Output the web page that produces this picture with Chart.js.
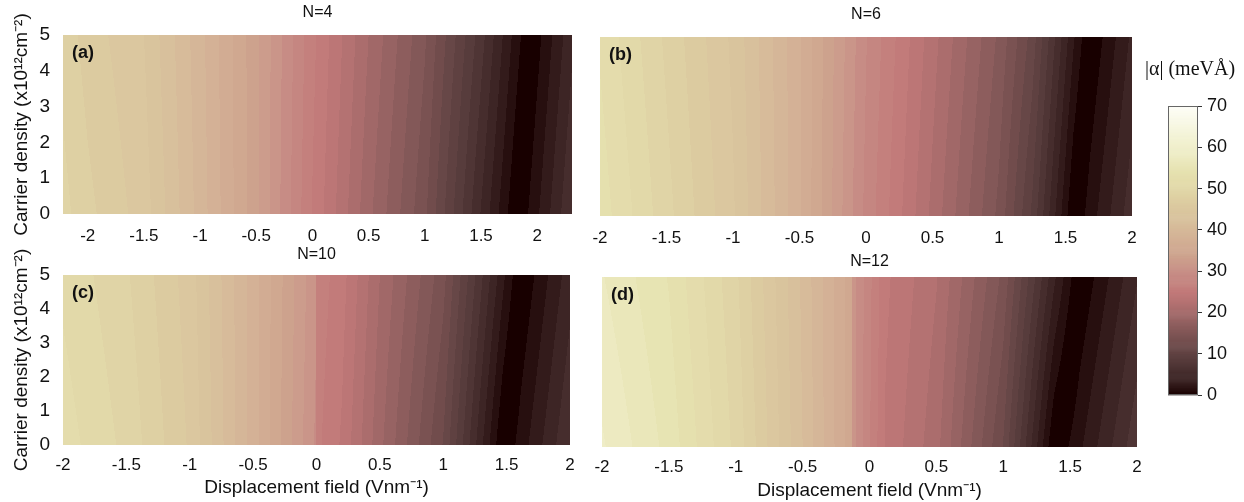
<!DOCTYPE html>
<html>
<head>
<meta charset="utf-8">
<script src="https://cdn.jsdelivr.net/npm/chart.js@4.4.1/dist/chart.umd.min.js"></script>
<style>
  html, body { margin: 0; padding: 0; background: #fff; }
  #wrap { position: relative; width: 1244px; height: 502px; overflow: hidden; }
  canvas { position: absolute; }
</style>
</head>
<body>
<div id="wrap">
  <canvas id="pa" width="585" height="250" style="left:0px;top:0px"></canvas>
  <canvas id="pb" width="560" height="250" style="left:585px;top:0px"></canvas>
  <canvas id="pc" width="585" height="257" style="left:0px;top:245px"></canvas>
  <canvas id="pd" width="560" height="257" style="left:585px;top:245px"></canvas>
  <canvas id="cbar" width="114" height="370" style="left:1130px;top:50px"></canvas>
</div>
<script>
// sampled rows of carrier density (x10^12 cm^-2)
const densityRows = [0, 5];
const fieldTicks = [-2, -1.5, -1, -0.5, 0, 0.5, 1, 1.5, 2];
const densityTicks = [0, 1, 2, 3, 4, 5];
const alphaTicks = [0, 10, 20, 30, 40, 50, 60, 70];

const titles = ['N=4', 'N=6', 'N=10', 'N=12'];
const tags = ['(a)', '(b)', '(c)', '(d)'];

// |alpha| (meV A) along the displacement field, at n = 0 and n = 5
const fieldN4 = [-2.22, -2, -1.5, -1, -0.5, 0, 0.5, 1, 1.5, 1.82, 1.94, 2.31];
const alphaN4_0 = [49.5, 48, 45.5, 40, 34, 26.5, 20, 14.3, 5.5, 0, 1.7, 7];
const alphaN4_5 = [48.5, 47, 44.8, 39.7, 34, 27, 21, 15.6, 7.6, 2, 0, 5.3];

const fieldN6 = [-2, -1.5, -1, -0.5, 0, 0.5, 1, 1.25, 1.56, 1.68, 2];
const alphaN6_0 = [54, 49.5, 45, 38, 29, 22, 15, 9.5, 0, 2, 6.5];
const alphaN6_5 = [53, 48.7, 44.5, 38, 29.5, 23, 16.5, 12, 3, 0, 4.5];

const fieldN10 = [-2, -1.5, -1, -0.5, -0.001, 0, 0.2, 0.5, 1, 1.47, 1.61, 2];
const alphaN10_0 = [52.5, 50, 46, 38.5, 30.5, 27, 25, 20, 12.5, 0, 2, 7];
const alphaN10_5 = [51.5, 49.2, 45.5, 38.5, 31, 27.5, 25.8, 21, 14.5, 3.2, 0, 5];

const fieldN12 = [-2, -1.5, -1, -0.5, -0.131, -0.13, 0.12, 0.5, 1, 1.38, 1.57, 2];
const alphaN12_0 = [59, 55.5, 50, 42, 35.5, 31.5, 25, 21.5, 12.5, 0, 2.5, 8];
const alphaN12_5 = [57.5, 54.5, 49.3, 41.7, 35.5, 31.5, 25.5, 22.5, 15, 4.5, 0, 5.5];

// contour step of the filled levels (meV A)
const levelStep = 1.4;

// colour map (value -> rgb)
const cmapStops = [
  [0, [24, 0, 0]], [2, [46, 22, 22]], [5, [66, 42, 42]], [8, [85, 58, 58]],
  [11, [102, 70, 70]], [14, [122, 82, 82]], [17, [142, 94, 94]], [20, [164, 106, 106]],
  [23, [184, 116, 116]], [25, [194, 122, 122]], [27, [196, 130, 126]], [29, [198, 138, 132]],
  [31, [202, 150, 138]], [34, [206, 164, 142]], [38, [212, 178, 150]], [42, [216, 192, 156]],
  [46, [220, 202, 160]], [50, [226, 216, 168]], [54, [230, 226, 176]], [58, [238, 236, 196]],
  [63, [244, 244, 216]], [70, [254, 254, 248]]
];

function cmap(v) {
  if (v <= cmapStops[0][0]) return cmapStops[0][1];
  for (let i = 1; i < cmapStops.length; i++) {
    const [v1, c1] = cmapStops[i];
    if (v <= v1) {
      const [v0, c0] = cmapStops[i - 1];
      const t = (v - v0) / (v1 - v0);
      return [0, 1, 2].map(k => c0[k] + (c1[k] - c0[k]) * t);
    }
  }
  return cmapStops[cmapStops.length - 1][1];
}

function lookup(xs, vs, x) {
  if (x <= xs[0]) return vs[0];
  for (let i = 1; i < xs.length; i++) {
    if (x <= xs[i]) {
      const t = (x - xs[i - 1]) / (xs[i] - xs[i - 1]);
      return vs[i - 1] + (vs[i] - vs[i - 1]) * t;
    }
  }
  return vs[vs.length - 1];
}

// alpha changes sign where |alpha| reaches zero; keep the sign while blending rows
function signed(vs) {
  const k = vs.indexOf(Math.min(...vs));
  return vs.map((v, i) => (i > k ? -v : v));
}

// filled contour layer
function heatLayer(xs, rowLow, rowHigh) {
  const sLow = signed(rowLow), sHigh = signed(rowHigh);
  return {
    id: 'heat',
    beforeDatasetsDraw(chart) {
      const ctx = chart.ctx;
      const xS = chart.scales.x, yS = chart.scales.y;
      const a = chart.chartArea;
      const x0 = Math.round(a.left), y0 = Math.round(a.top);
      const w = Math.round(a.right) - x0, h = Math.round(a.bottom) - y0;
      const img = ctx.createImageData(w, h);
      const span = densityRows[1] - densityRows[0];
      for (let i = 0; i < w; i++) {
        const xv = xS.getValueForPixel(x0 + i + 0.5);
        const lo = lookup(xs, sLow, xv), hi = lookup(xs, sHigh, xv);
        for (let j = 0; j < h; j++) {
          let t = (yS.getValueForPixel(y0 + j + 0.5) - densityRows[0]) / span;
          t = Math.max(0, Math.min(1, t));
          const v = Math.abs(lo + (hi - lo) * t);
          const c = cmap(Math.floor(v / levelStep) * levelStep);
          const p = (j * w + i) * 4;
          img.data[p] = c[0]; img.data[p + 1] = c[1]; img.data[p + 2] = c[2]; img.data[p + 3] = 255;
        }
      }
      ctx.putImageData(img, x0, y0);
    }
  };
}

function textLayer(title, tag, titleY) {
  return {
    id: 'texts',
    afterDatasetsDraw(chart) {
      const ctx = chart.ctx, a = chart.chartArea;
      ctx.save();
      ctx.fillStyle = '#111';
      ctx.textBaseline = 'middle';
      ctx.font = 'bold 18px "Liberation Sans", Arial, sans-serif';
      ctx.textAlign = 'left';
      ctx.fillText(tag, a.left + 9, a.top + 18);
      ctx.font = '16px "Liberation Sans", Arial, sans-serif';
      ctx.textAlign = 'center';
      ctx.fillText(title, (a.left + a.right) / 2, titleY);
      ctx.restore();
    }
  };
}

Chart.defaults.font.family = '"Liberation Sans", Arial, sans-serif';
Chart.defaults.color = '#111';

function panel(id, k, xs, rowLow, rowHigh, o) {
  new Chart(document.getElementById(id), {
    type: 'scatter',
    data: { datasets: [{ data: [] }] },
    options: {
      responsive: false,
      animation: false,
      events: [],
      layout: { padding: o.pad },
      plugins: {
        legend: { display: false },
        tooltip: { enabled: false }
      },
      scales: {
        x: {
          type: 'linear', min: o.xmin, max: o.xmax,
          grid: { display: false }, border: { display: false },
          ticks: {
            font: { size: 17 }, padding: o.tickPad, maxRotation: 0, autoSkip: false,
            includeBounds: false, callback: v => String(v)
          },
          afterBuildTicks: s => { s.ticks = fieldTicks.map(v => ({ value: v })); },
          afterFit: s => { s.height = o.xH; },
          title: {
            display: o.xTitle, text: 'Displacement field (Vnm\u207B\u00B9)',
            font: { size: 19 }, padding: { top: 0, bottom: o.xTitlePad }
          }
        },
        y: {
          type: 'linear', min: 0, max: 5, display: o.showY,
          grid: { display: false }, border: { display: false },
          ticks: { font: { size: 19 }, padding: 5, callback: v => String(v) },
          afterBuildTicks: s => { s.ticks = densityTicks.map(v => ({ value: v })); },
          afterFit: s => { s.width = o.showY ? 63 : 0; },
          title: {
            display: true, text: 'Carrier density (x10\u00B9\u00B2cm\u207B\u00B2)',
            font: { size: 19 }, padding: { top: 10, bottom: 0 }
          }
        }
      }
    },
    plugins: [heatLayer(xs, rowLow, rowHigh), textLayer(titles[k], tags[k], o.titleY)]
  });
}

panel('pa', 0, fieldN4, alphaN4_0, alphaN4_5, {
  xmin: -2.22, xmax: 2.31, showY: true, xTitle: false, titleY: 13,
  pad: { left: 0, right: 13, top: 35, bottom: 0 },
  xH: 36, tickPad: 4, xTitlePad: 0
});
panel('pb', 1, fieldN6, alphaN6_0, alphaN6_5, {
  xmin: -2, xmax: 2, showY: false, xTitle: false, titleY: 15,
  pad: { left: 15, right: 13, top: 37, bottom: 0 },
  xH: 34, tickPad: 4, xTitlePad: 0
});
panel('pc', 2, fieldN10, alphaN10_0, alphaN10_5, {
  xmin: -2, xmax: 2, showY: true, xTitle: true, titleY: 10,
  pad: { left: 0, right: 15, top: 30, bottom: 0 },
  xH: 57, tickPad: 2, xTitlePad: 3
});
panel('pd', 3, fieldN12, alphaN12_0, alphaN12_5, {
  xmin: -2, xmax: 2, showY: false, xTitle: true, titleY: 17,
  pad: { left: 17, right: 8, top: 32, bottom: 0 },
  xH: 55, tickPad: 2, xTitlePad: 0
});

// colour bar
const barLayer = {
  id: 'bar',
  beforeDatasetsDraw(chart) {
    const ctx = chart.ctx, a = chart.chartArea, yS = chart.scales.y;
    for (let v = 0; v < 70; v += 0.25) {
      const c = cmap(v + 0.125);
      const yTop = yS.getPixelForValue(v + 0.25), yBot = yS.getPixelForValue(v);
      ctx.fillStyle = `rgb(${c[0] | 0},${c[1] | 0},${c[2] | 0})`;
      ctx.fillRect(a.left, yTop - 0.3, a.right - a.left, yBot - yTop + 0.6);
    }
    ctx.strokeStyle = '#666';
    ctx.lineWidth = 1;
    ctx.strokeRect(a.left + 0.5, a.top + 0.5, a.right - a.left - 1, a.bottom - a.top - 1);
    ctx.save();
    ctx.fillStyle = '#111';
    ctx.font = '20px "Liberation Serif", "DejaVu Serif", serif';
    ctx.textAlign = 'center';
    ctx.textBaseline = 'middle';
    ctx.fillText('|\u03B1| (meV\u00C5)', (a.left + a.right) / 2 + 7, a.top - 36);
    ctx.restore();
  }
};

new Chart(document.getElementById('cbar'), {
  type: 'scatter',
  data: { datasets: [{ data: [] }] },
  options: {
    responsive: false,
    animation: false,
    events: [],
    layout: { padding: { left: 38, right: 0, top: 56, bottom: 25 } },
    plugins: {
      legend: { display: false },
      tooltip: { enabled: false }
    },
    scales: {
      x: { display: false, min: 0, max: 1 },
      y: {
        position: 'right', min: 0, max: 70,
        grid: { drawOnChartArea: false, tickLength: 4, color: '#333' },
        border: { display: false },
        ticks: { font: { size: 18 }, padding: 5, callback: v => String(v) },
        afterBuildTicks: s => { s.ticks = alphaTicks.map(v => ({ value: v })); },
        afterFit: s => { s.width = 46; }
      }
    }
  },
  plugins: [barLayer]
});
</script>
</body>
</html>
